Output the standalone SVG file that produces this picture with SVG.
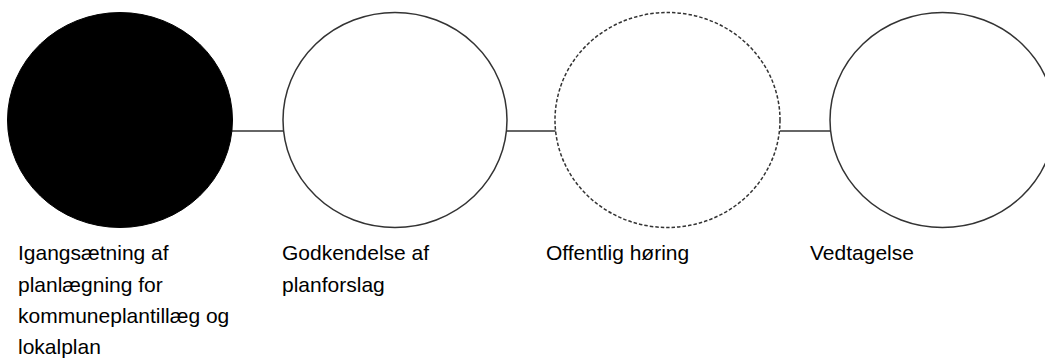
<svg xmlns="http://www.w3.org/2000/svg" width="1045" height="358" viewBox="0 0 1045 358">
<style>
.node{fill:#fff;stroke:#333;stroke-width:1.5}
.done{fill:#000;stroke:#000;stroke-width:1}
.dash{stroke-dasharray:3.5 2}
.conn{stroke:#333;stroke-width:1.5;fill:none}
text{font-family:"Liberation Sans",Arial,sans-serif;font-size:21px;fill:#000}
</style>
<rect width="1045" height="358" fill="#fff"/>
<g id="connectors">
<line class="conn" x1="232" y1="131" x2="283" y2="131"/>
<line class="conn" x1="507" y1="131" x2="556" y2="131"/>
<line class="conn" x1="780" y1="131" x2="831" y2="131"/>
</g>
<g id="n1">
<ellipse class="done" cx="120" cy="120" rx="112.5" ry="107.5"/>
<text x="18"><tspan x="18" y="260">Igangsætning af</tspan><tspan x="18" y="291.5">planlægning for</tspan><tspan x="18" y="322.5">kommuneplantillæg og</tspan><tspan x="18" y="353.5">lokalplan</tspan></text>
</g>
<g id="n2">
<ellipse class="node" cx="395" cy="120" rx="112" ry="107.5"/>
<text x="282"><tspan x="282" y="260">Godkendelse af</tspan><tspan x="282" y="291.5">planforslag</tspan></text>
</g>
<g id="n3">
<ellipse class="node dash" cx="667.5" cy="120" rx="112.5" ry="107.5"/>
<text x="546" y="260">Offentlig høring</text>
</g>
<g id="n4">
<ellipse class="node" cx="942.5" cy="120" rx="112.5" ry="107.5"/>
<text x="810" y="260">Vedtagelse</text>
</g>
</svg>
